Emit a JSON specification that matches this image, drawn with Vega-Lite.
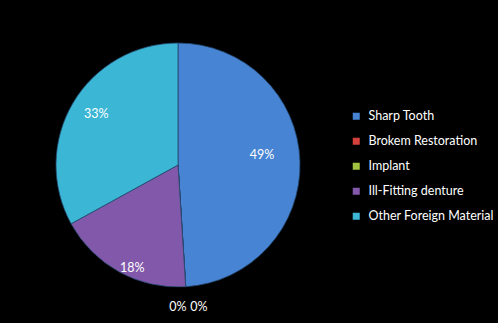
{
  "$schema": "https://vega.github.io/schema/vega-lite/v6.json",
  "autosize": "none",
  "width": 344,
  "height": 314,
  "padding": {"left": 6, "top": 8, "right": 148, "bottom": 1},
  "background": "black",
  "config": {"view": {"stroke": null}, "text": {"font": "Lato", "fontSize": 12.5, "color": "white"}},
  "data": {"values": [
    {"category": "Sharp Tooth", "share": 0.49, "rank": 1},
    {"category": "Brokem Restoration", "share": 0.0, "rank": 2},
    {"category": "Implant", "share": 0.0, "rank": 3},
    {"category": "Ill-Fitting denture", "share": 0.18, "rank": 4},
    {"category": "Other Foreign Material", "share": 0.33, "rank": 5}
  ]},
  "encoding": {
    "theta": {"field": "share", "type": "quantitative", "stack": true},
    "order": {"field": "rank", "type": "quantitative"}
  },
  "layer": [
    {
      "mark": {"type": "arc", "outerRadius": 122, "stroke": "#24476e", "strokeWidth": 0.8},
      "encoding": {
        "color": {
          "field": "category", "type": "nominal",
          "scale": {
            "domain": ["Sharp Tooth", "Brokem Restoration", "Implant", "Ill-Fitting denture", "Other Foreign Material"],
            "range": ["#4784d3", "#d4403c", "#9fc33e", "#8259aa", "#3bb6d4"]
          },
          "legend": {
            "title": null,
            "orient": "none",
            "legendX": 344,
            "legendY": 102,
            "symbolType": "square",
            "symbolSize": 49,
            "symbolStrokeWidth": 0,
            "labelColor": "white",
            "labelFont": "Lato",
            "labelFontSize": 12.5,
            "rowPadding": 12,
            "labelOffset": 6,
            "labelLimit": 200
          }
        }
      }
    },
    {
      "mark": {"type": "text", "radius": 84, "dy": -7},
      "encoding": {"text": {"condition": {"test": "datum.category == 'Sharp Tooth'", "field": "share", "type": "quantitative", "format": ".0%"}, "value": ""}}
    },
    {
      "mark": {"type": "text", "radius": 95, "dy": -3},
      "encoding": {"text": {"condition": {"test": "datum.category == 'Other Foreign Material'", "field": "share", "type": "quantitative", "format": ".0%"}, "value": ""}}
    },
    {
      "mark": {"type": "text", "radius": 118, "dx": 11},
      "encoding": {"text": {"condition": {"test": "datum.category == 'Ill-Fitting denture'", "field": "share", "type": "quantitative", "format": ".0%"}, "value": ""}}
    },
    {
      "mark": {"type": "text", "radius": 142, "dx": -9},
      "encoding": {"text": {"condition": {"test": "datum.category == 'Brokem Restoration'", "field": "share", "type": "quantitative", "format": ".0%"}, "value": ""}}
    },
    {
      "mark": {"type": "text", "radius": 142, "dx": 12},
      "encoding": {"text": {"condition": {"test": "datum.category == 'Implant'", "field": "share", "type": "quantitative", "format": ".0%"}, "value": ""}}
    }
  ]
}
